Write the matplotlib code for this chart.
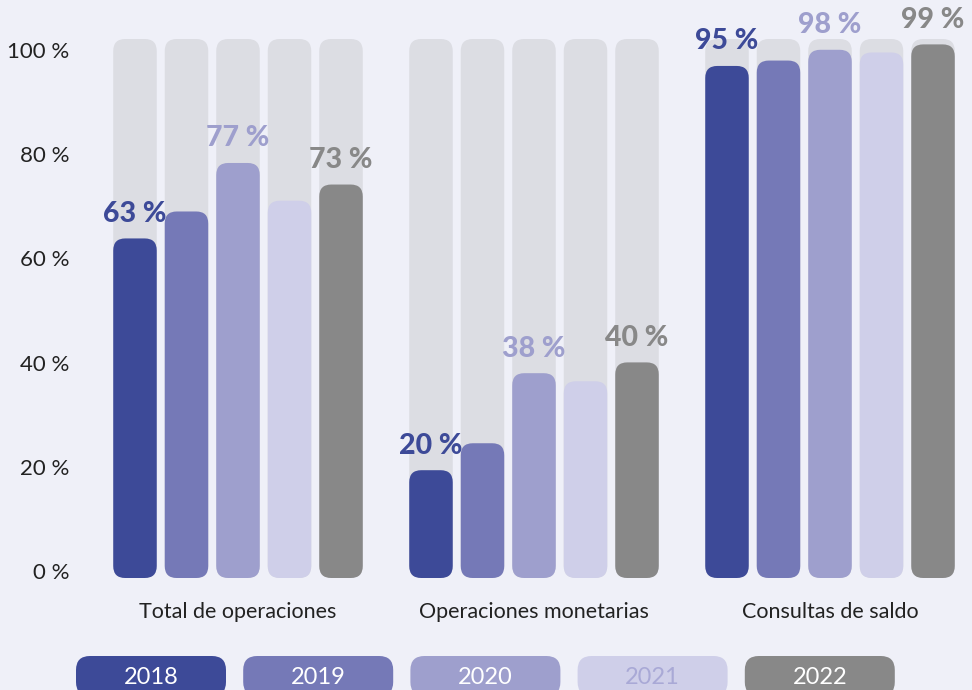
import numpy as np
import matplotlib
matplotlib.use("Agg")
import matplotlib.pyplot as plt
from matplotlib.patches import FancyBboxPatch

# --- data -------------------------------------------------------------
categories = ["Total de operaciones", "Operaciones monetarias", "Consultas de saldo"]
years = ["2018", "2019", "2020", "2021", "2022"]
v2018 = [63, 20, 95]
v2019 = [68, 25, 96]
v2020 = [77, 38, 98]
v2021 = [70, 36.5, 97.5]
v2022 = [73, 40, 99]
series = [v2018, v2019, v2020, v2021, v2022]
labeled_years = ["2018", "2020", "2022"]
y_ticks = [0, 20, 40, 60, 80, 100]

# --- style ------------------------------------------------------------
BG = "#EFF0F8"
TRACK = "#DCDDE3"
bar_colors = ["#3D4A98", "#7579B7", "#9E9FCD", "#CFCFE9", "#888888"]
legend_text = ["white", "white", "white", "#A9A9D6", "white"]
FONT = ["Lato", "DejaVu Sans"]

W, H = 972, 690
fig = plt.figure(figsize=(W / 100, H / 100), dpi=100, facecolor=BG)

ax_l, ax_r, ax_b, ax_t = 100, 960, 578, 39          # axes box in pixels
ax = fig.add_axes([ax_l / W, (H - ax_b) / H, (ax_r - ax_l) / W, (ax_b - ax_t) / H])
ax.set_facecolor(BG)
xlim = (-138 / 296, 722 / 296)
ax.set_xlim(*xlim)
ax.set_ylim(0, 100)
for s in ax.spines.values():
    s.set_visible(False)

# data units per pixel, used to keep bar corners circular
ux = (xlim[1] - xlim[0]) / (ax_r - ax_l)
uy = 100 / (ax_b - ax_t)
aspect = uy / ux

pitch, width = 0.174, 0.147
radius_px = 12


def rounded_bar(x, h, color):
    patch = FancyBboxPatch(
        (x - width / 2, 0), width, h,
        boxstyle=f"round,pad=0,rounding_size={radius_px * ux}",
        mutation_aspect=aspect, fc=color, ec="none", clip_on=False,
    )
    ax.add_patch(patch)


group_x = np.arange(len(categories))
for i, (yr, vals, col) in enumerate(zip(years, series, bar_colors)):
    xs = group_x + (i - 2) * pitch
    for x, v in zip(xs, vals):
        rounded_bar(x, 100, TRACK)
        rounded_bar(x, v, col)
        if yr in labeled_years:
            ax.annotate(f"{v:.0f} %", (x, v), xytext=(0, 12), textcoords="offset points",
                        ha="center", va="baseline", fontsize=20.5, fontweight="black",
                        color=col, family=FONT, annotation_clip=False)

# category names under each group
for x, name in zip(group_x, categories):
    ax.text(x, -(618 - ax_b) * uy, name, ha="center", va="baseline", fontsize=15.5,
            fontweight="normal", color="#222222", family=FONT)

# y axis labels sit on a slightly tighter scale than the bars
tick_pos = [1.3 + t * 0.967 for t in y_ticks]
ax.set_yticks(tick_pos)
ax.set_yticklabels([f"{t} %" for t in y_ticks], family=FONT, fontsize=16,
                   fontweight="normal", color="#222222")
ax.set_xticks([])
ax.tick_params(axis="y", length=0, pad=22)

# legend pills along the bottom edge
lax = fig.add_axes([0, 0, 1, 1])
lax.set_xlim(0, W)
lax.set_ylim(H, 0)
lax.axis("off")
for i, (yr, col, tc) in enumerate(zip(years, bar_colors, legend_text)):
    x0 = 76 + i * 167.2
    lax.add_patch(FancyBboxPatch((x0, 656), 150, 40,
                                 boxstyle="round,pad=0,rounding_size=14",
                                 fc=col, ec="none", clip_on=False))
    lax.text(x0 + 75, 683.5, yr, ha="center", va="baseline", fontsize=17,
             fontweight="normal", color=tc, family=FONT)

fig.savefig("out.png", dpi=100, facecolor=BG)
